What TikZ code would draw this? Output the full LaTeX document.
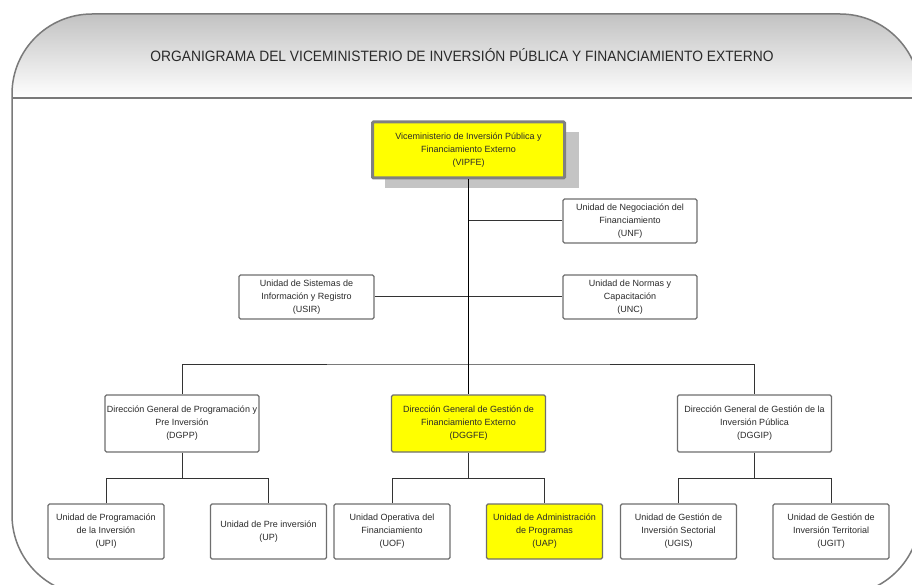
\documentclass[tikz,border=0pt]{standalone}
\usepackage{fontspec}
\setmainfont{Liberation Sans}
\newfontfamily\titlefont[FakeStretch=0.92]{Liberation Sans}
\usetikzlibrary{shadows,calc}
\definecolor{frameline}{HTML}{7A7A7A}
\definecolor{boxline}{HTML}{6E6E6E}
\definecolor{txt}{HTML}{2A2A2A}
\definecolor{hilite}{HTML}{FFFF00}
\definecolor{shadowgray}{HTML}{C4C4C4}
\definecolor{headtop}{HTML}{C2C2C2}
\begin{document}
\begin{tikzpicture}[x=1pt,y=1pt,
  orgbox/.style={draw=boxline, line width=1.2pt, rounded corners=1.5pt, fill=white,
    align=center, font=\fontsize{9}{13}\selectfont, text=txt, inner sep=0pt},
  lvltwo/.style={orgbox, minimum width=134pt, minimum height=44pt},
  lvlthree/.style={orgbox, minimum width=154pt, minimum height=57pt},
  lvlfour/.style={orgbox, minimum width=116pt, minimum height=55pt},
  yel/.style={fill=hilite},
  conn/.style={draw=black!80, line width=1pt},
  trunk/.style={draw=black, line width=1.5pt}
]
\useasboundingbox (0,0) rectangle (912,584);
% frame and header
\begin{scope}
  \clip (0,0) rectangle (912,584);
  \begin{scope}
    \clip[rounded corners=80pt] (12,-11) rectangle (920,570);
    \shade[top color=headtop, bottom color=white] (0,486) rectangle (920,570);
  \end{scope}
  \draw[frameline, line width=1.5pt, rounded corners=80pt] (12,-11) rectangle (920,570);
  \draw[frameline, line width=1.5pt] (12,486) -- (920,486);
\end{scope}
\node[font=\titlefont\fontsize{15}{17}\selectfont, text=txt] (title) at (462,529)
  {ORGANIGRAMA DEL VICEMINISTERIO DE INVERSIÓN PÚBLICA Y FINANCIAMIENTO EXTERNO};

% top box with shadow
\fill[shadowgray] (384.5,396) rectangle (578.5,452);
\node[orgbox, yel, draw=gray, line width=3pt, rounded corners=1pt, minimum width=192pt, minimum height=56pt] (vipfe) at (468.5,434)
  {Viceministerio de Inversión Pública y\\Financiamiento Externo\\(VIPFE)};

% level two
\node[lvltwo] (unf) at (630,363) {Unidad de Negociación del\\Financiamiento\\(UNF)};
\node[lvltwo, minimum width=135pt] (usir) at (306.5,287) {Unidad de Sistemas de\\Información y Registro\\(USIR)};
\node[lvltwo] (unc) at (630,287) {Unidad de Normas y\\Capacitación\\(UNC)};

% level three
\node[lvlthree] (dgpp) at (182,160.5) {Dirección General de Programación y\\Pre Inversión\\(DGPP)};
\node[lvlthree, yel] (dggfe) at (468.5,160.5) {Dirección General de Gestión de\\Financiamiento Externo\\(DGGFE)};
\node[lvlthree] (dggip) at (754.5,160.5) {Dirección General de Gestión de la\\Inversión Pública\\(DGGIP)};

% level four
\node[lvlfour] (upi) at (106,52.5) {Unidad de Programación\\de la Inversión\\(UPI)};
\node[lvlfour] (up) at (268.5,52.5) {Unidad de Pre inversión\\(UP)};
\node[lvlfour] (uof) at (392,52.5) {Unidad Operativa del\\Financiamiento\\(UOF)};
\node[lvlfour, yel] (uap) at (544.5,52.5) {Unidad de Administración\\de Programas\\(UAP)};
\node[lvlfour] (ugis) at (678.5,52.5) {Unidad de Gestión de\\Inversión Sectorial\\(UGIS)};
\node[lvlfour] (ugit) at (831,52.5) {Unidad de Gestión de\\Inversión Territorial\\(UGIT)};

% connectors
\coordinate (t1) at (468.5,363);
\coordinate (b3) at (468.5,220);
\path[conn] (t1) -- (unf.west);
\path[conn] (usir.east) -- (unc.west);
\path[conn] (dgpp.north) |- (b3) -| (dggip.north);
\path[trunk] (vipfe.south) -- (dggfe.north);

\coordinate (j1) at ($(dgpp.south)+(0,-26)$);
\coordinate (j2) at ($(dggfe.south)+(0,-26)$);
\coordinate (j3) at ($(dggip.south)+(0,-26)$);
\path[conn] (dgpp.south) -- (j1);
\path[conn] (dggfe.south) -- (j2);
\path[conn] (dggip.south) -- (j3);
\path[conn] (upi.north) |- (j1) -| (up.north);
\path[conn] (uof.north) |- (j2) -| (uap.north);
\path[conn] (ugis.north) |- (j3) -| (ugit.north);
\end{tikzpicture}
\end{document}
